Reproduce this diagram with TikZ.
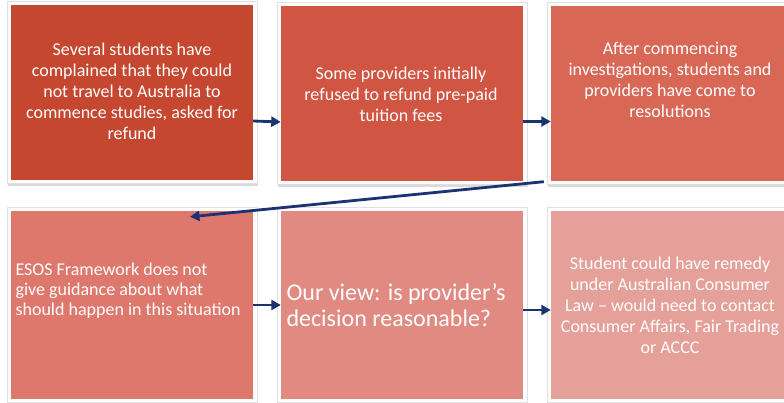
\documentclass[tikz,border=0pt]{standalone}
\usepackage{fontspec}
\setmainfont{Carlito}
\usetikzlibrary{positioning,shadows,arrows.meta,calc}

\definecolor{tileA}{HTML}{C5472F}
\definecolor{tileB}{HTML}{D05542}
\definecolor{tileC}{HTML}{D86756}
\definecolor{tileD}{HTML}{DE786D}
\definecolor{tileE}{HTML}{E18A82}
\definecolor{tileF}{HTML}{E6A09A}
\definecolor{navy}{HTML}{1B3370}

\begin{document}
\begin{tikzpicture}[
    x=1pt, y=-1pt,
    card/.style={rectangle, draw=black!12, fill=white, inner sep=0pt,
        drop shadow={shadow xshift=1pt, shadow yshift=-2.5pt, opacity=0.3}},
    tile/.style={rectangle, inner sep=0pt, minimum width=242pt},
    top/.style={minimum height=175pt},
    low/.style={minimum height=188pt},
    label/.style={text=white, font=\fontsize{18}{21}\selectfont, align=center},
    arrow/.style={-{Triangle[length=9.5pt, width=10pt]}, line width=2.8pt, draw=navy}
]
\path[use as bounding box, clip] (0,0) rectangle (784,403);

% Top row
\node[card, minimum width=250pt, minimum height=182pt] (f1) at (132,92.5) {};
\node[card, minimum width=250pt, minimum height=182pt] (f2) at (402,93.5) {};
\node[card, minimum width=250pt, minimum height=182pt] (f3) at (672,93.5) {};
\node[tile, top, fill=tileA] (b1) at (f1) {};
\node[tile, top, fill=tileB] (b2) at (f2) {};
\node[tile, top, fill=tileC] (b3) at (f3) {};

% Bottom row
\node[card, minimum width=250pt, minimum height=195pt] (f4) at (132,305) {};
\node[card, minimum width=250pt, minimum height=195pt] (f5) at (402,305) {};
\node[card, minimum width=250pt, minimum height=195pt] (f6) at (672,305) {};
\node[tile, low, fill=tileD] (b4) at (f4) {};
\node[tile, low, fill=tileE] (b5) at (f5) {};
\node[tile, low, fill=tileF] (b6) at (f6) {};

% Texts
\node[label] (t1) at (132,91) {Several students have\\complained that they could\\not travel to Australia to\\commence studies, asked for\\refund};
\node[label] (t2) at (401,94) {Some providers initially\\refused to refund pre-paid\\tuition fees};
\node[label] (t3) at (670,80) {After commencing\\investigations, students and\\providers have come to\\resolutions};
\node[label, align=left, anchor=west, font=\fontsize{18}{20}\selectfont] (t4) at (12,291) {ESOS Framework does not\\give guidance about what\\should happen in this situation};
\node[label, align=left, anchor=west, font=\fontsize{24}{26}\selectfont] (t5) at (283,305) {Our view: is provider’s\\decision reasonable?};
\node[label] (t6) at (670,305) {Student could have remedy\\under Australian Consumer\\Law – would need to contact\\Consumer Affairs, Fair Trading\\or ACCC};

% Connectors
\draw[arrow] ([yshift=-28.5pt]b1.east) -- ([yshift=-28.5pt]b2.west);
\draw[arrow] ([yshift=-28pt]b2.east) -- ([yshift=-28pt]b3.west);
\draw[arrow] ([xshift=-3pt, yshift=3pt]f3.south west) -- ($(b4.north)+(58,6)$);
\draw[arrow] (b4.east) -- (b5.west);
\draw[arrow] ([yshift=-5pt]b5.east) -- ([yshift=-5pt]b6.west);

\end{tikzpicture}
\end{document}
